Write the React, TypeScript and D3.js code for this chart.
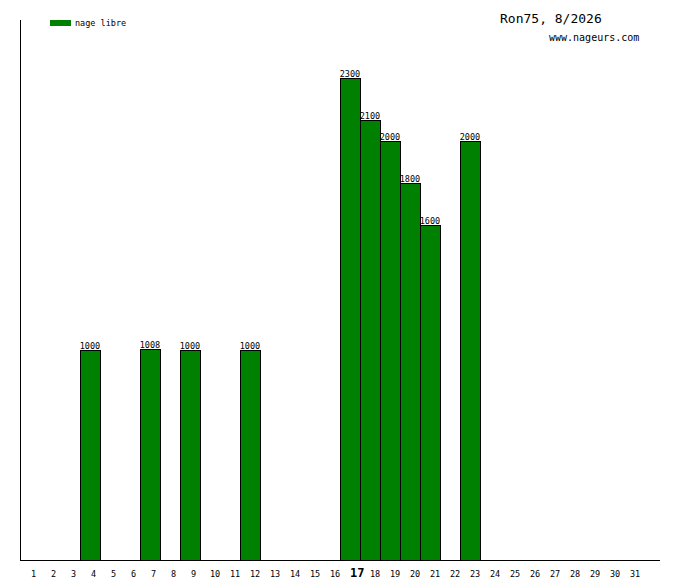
import { useEffect, useRef } from 'react'
import * as d3 from 'd3'

const DAYS = [4, 7, 9, 12, 17, 18, 19, 20, 21, 23]
const DISTANCES = [1000, 1008, 1000, 1000, 2300, 2100, 2000, 1800, 1600, 2000]
const MONTH_DAYS = d3.range(1, 32)
const TODAY = 17
const TITLE = 'Ron75, 8/2026'
const SITE = 'www.nageurs.com'
const LEGEND = 'nage libre'

const MONO = '"DejaVu Sans Mono", "Liberation Mono", monospace'
const GREEN = '#008000'

export default function App() {
  const svgRef = useRef<SVGSVGElement>(null)

  useEffect(() => {
    if (!svgRef.current) return
    const svg = d3.select(svgRef.current)
    svg.selectAll('*').remove()

    const left = 20
    const bottom = 560
    const top = 20

    // one 20px slot per day, axis runs one slot past the 31st
    const x = d3.scaleLinear().domain([1, 33]).range([left, 660])
    const y = d3.scaleLinear().domain([0, 2576]).range([bottom, top])

    const data = DAYS.map((d, i) => ({ day: d, value: DISTANCES[i] }))

    // bars
    svg.append('g')
      .selectAll('rect')
      .data(data)
      .enter()
      .append('rect')
      .attr('x', d => x(d.day) + 0.5)
      .attr('y', d => Math.round(y(d.value)) + 0.5)
      .attr('width', d => x(d.day + 1) - x(d.day))
      .attr('height', d => bottom - Math.round(y(d.value)))
      .attr('fill', GREEN)
      .attr('stroke', '#000')
      .attr('stroke-width', 1)

    // value labels
    svg.append('g')
      .selectAll('text')
      .data(data)
      .enter()
      .append('text')
      .attr('x', d => x(d.day) + 10)
      .attr('y', d => Math.round(y(d.value)) - 1)
      .attr('text-anchor', 'middle')
      .attr('font-family', MONO)
      .attr('font-size', 8.5)
      .attr('fill', '#000')
      .text(d => d.value)

    // axes
    svg.append('line')
      .attr('x1', left + 0.5).attr('x2', left + 0.5)
      .attr('y1', top).attr('y2', bottom + 0.5)
      .attr('stroke', '#000')
    svg.append('line')
      .attr('x1', left).attr('x2', x(33))
      .attr('y1', bottom + 0.5).attr('y2', bottom + 0.5)
      .attr('stroke', '#000')

    // day labels, left-aligned from the middle of each slot
    svg.append('g')
      .selectAll('text')
      .data(MONTH_DAYS)
      .enter()
      .append('text')
      .attr('x', d => x(d) + (d < 10 ? 11 : 10))
      .attr('y', 577)
      .attr('font-family', MONO)
      .attr('font-size', d => d === TODAY ? 12 : 8.5)
      .attr('font-weight', d => d === TODAY ? 'bold' : 'normal')
      .attr('fill', '#000')
      .text(d => d)

    // legend
    svg.append('rect')
      .attr('x', 50).attr('y', 20)
      .attr('width', 21).attr('height', 6)
      .attr('fill', GREEN)
    svg.append('text')
      .attr('x', 75).attr('y', 26)
      .attr('font-family', MONO)
      .attr('font-size', 8.5)
      .attr('fill', '#000')
      .text(LEGEND)

    // title
    svg.append('text')
      .attr('x', 500).attr('y', 23)
      .attr('font-family', MONO)
      .attr('font-size', 13)
      .attr('fill', '#000')
      .text(TITLE)
    svg.append('text')
      .attr('x', 549).attr('y', 41)
      .attr('font-family', MONO)
      .attr('font-size', 10)
      .attr('fill', '#000')
      .text(SITE)
  }, [])

  return (
    <svg
      ref={svgRef}
      width={680}
      height={580}
      style={{ position: 'absolute', left: 0, top: 0, background: '#fff' }}
    />
  )
}
